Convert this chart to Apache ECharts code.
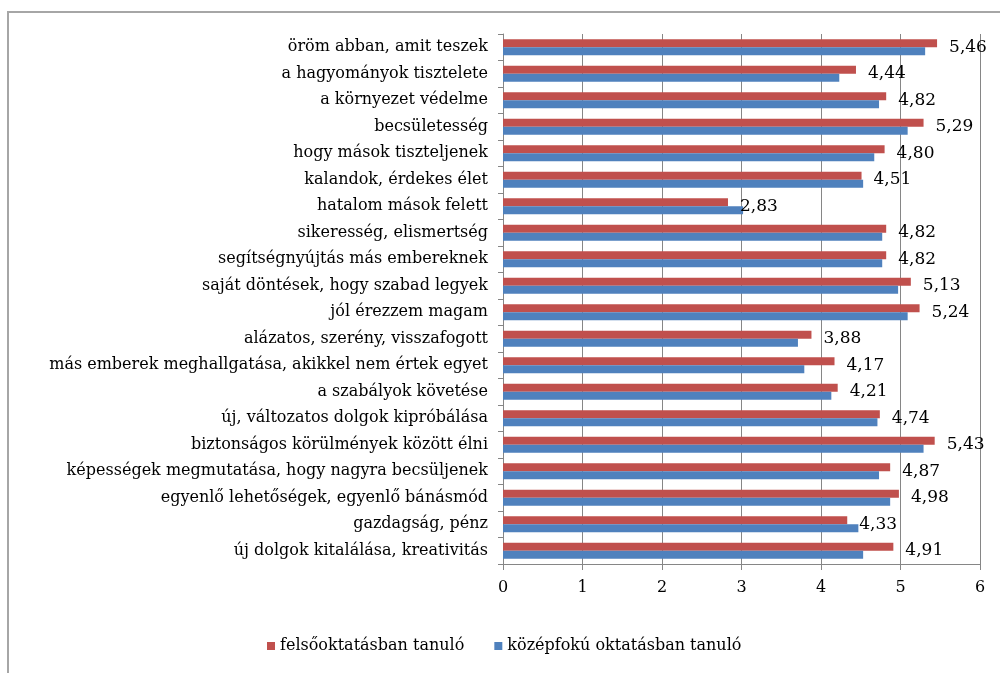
<!DOCTYPE html>
<html>
<head>
<meta charset="utf-8">
<script src="https://cdn.jsdelivr.net/npm/echarts@6/dist/echarts.min.js"></script>
<style>html,body{margin:0;padding:0;background:#fff}#c{width:1000px;height:673px}</style>
</head>
<body>
<div id="c"></div>
<script>
const categories = [
  "öröm abban, amit teszek",
  "a hagyományok tisztelete",
  "a környezet védelme",
  "becsületesség",
  "hogy mások tiszteljenek",
  "kalandok, érdekes élet",
  "hatalom mások felett",
  "sikeresség, elismertség",
  "segítségnyújtás más embereknek",
  "saját döntések, hogy szabad legyek",
  "jól érezzem magam",
  "alázatos, szerény, visszafogott",
  "más emberek meghallgatása, akikkel nem értek egyet",
  "a szabályok követése",
  "új, változatos dolgok kipróbálása",
  "biztonságos körülmények között élni",
  "képességek megmutatása, hogy nagyra becsüljenek",
  "egyenlő lehetőségek, egyenlő bánásmód",
  "gazdagság, pénz",
  "új dolgok kitalálása, kreativitás"
];
const felso = [5.46, 4.44, 4.82, 5.29, 4.80, 4.51, 2.83, 4.82, 4.82, 5.13, 5.24, 3.88, 4.17, 4.21, 4.74, 5.43, 4.87, 4.98, 4.33, 4.91];
const kozep = [5.31, 4.23, 4.73, 5.09, 4.67, 4.53, 3.02, 4.77, 4.77, 4.97, 5.09, 3.71, 3.79, 4.13, 4.71, 5.29, 4.73, 4.87, 4.47, 4.53];
const xTicks = [0, 1, 2, 3, 4, 5, 6];
const seriesNames = ["felsőoktatásban tanuló", "középfokú oktatásban tanuló"];

const font = "DejaVu Serif";
const chart = echarts.init(document.getElementById('c'));
chart.setOption({
  animation: false,
  backgroundColor: '#fff',
  textStyle: { fontFamily: font },
  graphic: [{
    type: 'rect', shape: { x: 8, y: 12, width: 1010, height: 700 },
    style: { fill: 'none', stroke: '#a6a6a6', lineWidth: 2 }, silent: true, z: 100
  }],
  grid: { left: 503, right: 20, top: 34, bottom: 109, containLabel: false },
  legend: {
    data: seriesNames, bottom: 14, left: 262, icon: 'rect', itemWidth: 8, itemHeight: 8,
    itemGap: 30,
    textStyle: { fontFamily: font, fontSize: 16, color: '#000' }
  },
  xAxis: {
    type: 'value', min: xTicks[0], max: xTicks[xTicks.length - 1], interval: 1,
    axisLine: { show: true, lineStyle: { color: '#868686' } },
    axisTick: { show: true, length: 6, lineStyle: { color: '#868686' } },
    splitLine: { show: true, lineStyle: { color: '#868686' } },
    axisLabel: { fontFamily: font, fontSize: 16, color: '#000', margin: 16 }
  },
  yAxis: {
    type: 'category', data: categories, inverse: true,
    axisLine: { show: true, lineStyle: { color: '#868686' } },
    axisTick: { show: true, length: 5, inside: false, lineStyle: { color: '#868686' } },
    axisLabel: { fontFamily: font, fontSize: 16, color: '#000', margin: 15 }
  },
  series: [
    {
      name: seriesNames[0], type: 'bar', data: felso, barGap: '0%', barCategoryGap: '40%',
      itemStyle: { color: '#C0504D' },
      label: {
        show: true, position: 'right', distance: 12, offset: [0, 4],
        fontFamily: font, fontSize: 17, color: '#000',
        formatter: p => p.value.toFixed(2).replace('.', ',')
      }
    },
    {
      name: seriesNames[1], type: 'bar', data: kozep, barGap: '0%', barCategoryGap: '40%',
      itemStyle: { color: '#4F81BD' }
    }
  ]
});
</script>
</body>
</html>
